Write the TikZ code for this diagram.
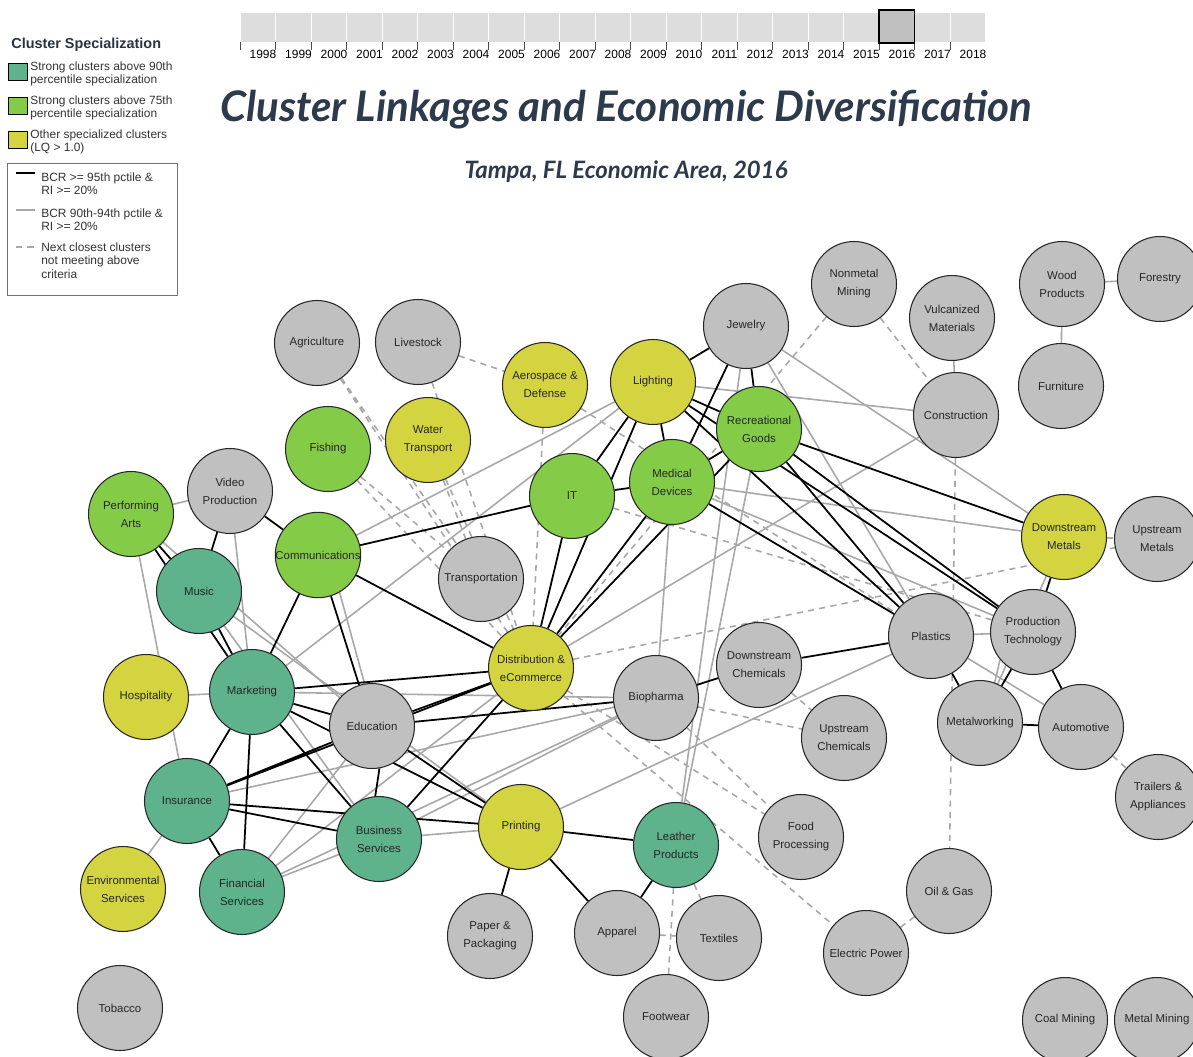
\documentclass[tikz,border=0pt]{standalone}
\usepackage{fontspec}
\usepackage{graphicx}
\setmainfont{Liberation Sans}
\newfontfamily\titlefont{Lato}
\usetikzlibrary{backgrounds}

\definecolor{strongteal}{RGB}{94,178,140}
\definecolor{stronggreen}{RGB}{132,204,72}
\definecolor{otheryellow}{RGB}{212,212,64}
\definecolor{plaingray}{RGB}{192,192,192}
\definecolor{linkgray}{RGB}{168,168,168}
\definecolor{titleblue}{RGB}{44,58,76}
\definecolor{yearcell}{RGB}{221,221,221}

\tikzset{
  cluster/.style={circle, draw=black!85, line width=0.6pt, minimum size=1.7cm,
    inner sep=0pt, align=center, text=black!85,
    font=\fontsize{6.5}{10.2}\selectfont},
  above90/.style={cluster, fill=strongteal},
  above75/.style={cluster, fill=stronggreen},
  lqone/.style={cluster, fill=otheryellow},
  nospec/.style={cluster, fill=plaingray},
  bcrtop/.style={black, line width=1pt},
  bcrnext/.style={linkgray, line width=0.9pt},
  closest/.style={linkgray, line width=0.9pt, dash pattern=on 3.5pt off 3pt},
  legtext/.style={anchor=north west, align=left, inner sep=0pt, text=black!80,
    font=\fontsize{6.8}{7.9}\selectfont},
}

\begin{document}
\begin{tikzpicture}[x=0.02cm, y=-0.02cm]
    \useasboundingbox (0,0) rectangle (1193,1057);

    % year slider
    \foreach \yr [count=\i from 0] in {1998,...,2018} {
        \fill[yearcell, draw=white, line width=0.5pt] (240+35.5*\i, 12) rectangle +(35.5, 30);
        \draw[black!70, line width=0.4pt] (240+35.5*\i, 42) -- +(0, 8);
        \node[font=\fontsize{6.8}{8}\selectfont] at (240+35.5*\i+23, 54) {\yr};
    }
    \draw[black!70, line width=0.4pt] (240, 42) -- (240, 50);
    \draw[fill=plaingray, line width=0.8pt] (879, 10) rectangle (914.5, 43);

    % titles
    \node[text=titleblue] (title) at (626, 110)
        {\resizebox{16.24cm}{!}{\titlefont\bfseries\itshape Cluster Linkages and Economic Diversification}};
    \node[text=titleblue] (subtitle) at (626, 172)
        {\resizebox{6.46cm}{!}{\titlefont\bfseries\itshape Tampa, FL Economic Area, 2016}};

    % legend
    \node[anchor=west, inner sep=0pt, text=titleblue!90!black, font=\fontsize{8.2}{9}\bfseries\selectfont] at (11, 45) {Cluster Specialization};
    \draw[fill=strongteal, line width=0.5pt] (8, 63) rectangle (27, 80);
    \draw[fill=stronggreen, line width=0.5pt] (8, 97) rectangle (27, 114);
    \draw[fill=otheryellow, line width=0.5pt] (8, 131) rectangle (27, 148);
    \node[legtext] at (30, 61) {Strong clusters above 90th\\percentile specialization};
    \node[legtext] at (30, 95) {Strong clusters above 75th\\percentile specialization};
    \node[legtext] at (30, 129) {Other specialized clusters\\(LQ > 1.0)};
    \draw[black!55, line width=0.5pt] (7, 163) rectangle (177, 295);
    \draw[bcrtop] (16, 173) -- (35, 173);
    \draw[bcrnext] (16, 210) -- (35, 210);
    \draw[closest] (16, 247) -- (35, 247);
    \node[legtext] at (41, 172) {BCR >= 95th pctile \&\\RI >= 20\%};
    \node[legtext] at (41, 208) {BCR 90th-94th pctile \&\\RI >= 20\%};
    \node[legtext] at (41, 242) {Next closest clusters\\not meeting above\\criteria};

    % clusters
    \node[nospec] (agri) at (317, 343) {Agriculture};
    \node[nospec] (livestock) at (418, 342) {Livestock};
    \node[nospec] (nonmetal) at (854, 284) {Nonmetal\\Mining};
    \node[nospec] (vulcan) at (952, 318) {Vulcanized\\Materials};
    \node[nospec] (wood) at (1062, 284) {Wood\\Products};
    \node[nospec] (forestry) at (1160, 279) {Forestry};
    \node[nospec] (jewelry) at (746, 326) {Jewelry};
    \node[lqone] (aero) at (545, 385) {Aerospace \&\\Defense};
    \node[lqone] (lighting) at (653, 382) {Lighting};
    \node[nospec] (construction) at (956, 415) {Construction};
    \node[nospec] (furniture) at (1061, 386) {Furniture};
    \node[above75] (recgoods) at (759, 429) {Recreational\\Goods};
    \node[above75] (fishing) at (328, 449) {Fishing};
    \node[lqone] (watertr) at (428, 440) {Water\\Transport};
    \node[nospec] (video) at (230, 491) {Video\\Production};
    \node[above75] (it) at (572, 496) {IT};
    \node[above75] (meddev) at (672, 482) {Medical\\Devices};
    \node[above75] (perfarts) at (131, 514) {Performing\\Arts};
    \node[above75] (comm) at (318, 555) {Communications};
    \node[lqone] (dnmetals) at (1064, 537) {Downstream\\Metals};
    \node[nospec] (upmetals) at (1157, 539) {Upstream\\Metals};
    \node[nospec] (transp) at (481, 579) {Transportation};
    \node[above90] (music) at (199, 591) {Music};
    \node[nospec] (plastics) at (931, 636) {Plastics};
    \node[nospec] (prodtech) at (1033, 632) {Production\\Technology};
    \node[lqone] (distrib) at (531, 668) {Distribution \&\\eCommerce};
    \node[nospec] (dnchem) at (759, 665) {Downstream\\Chemicals};
    \node[nospec] (biopharma) at (656, 698) {Biopharma};
    \node[lqone] (hospitality) at (146, 697) {Hospitality};
    \node[above90] (marketing) at (252, 692) {Marketing};
    \node[nospec] (education) at (372, 726) {Education};
    \node[nospec] (metalwork) at (980, 723) {Metalworking};
    \node[nospec] (automotive) at (1081, 727) {Automotive};
    \node[nospec] (upchem) at (844, 738) {Upstream\\Chemicals};
    \node[nospec] (trailers) at (1158, 797) {Trailers \&\\Appliances};
    \node[above90] (insurance) at (187, 801) {Insurance};
    \node[above90] (business) at (379, 839) {Business\\Services};
    \node[lqone] (printing) at (521, 827) {Printing};
    \node[above90] (leather) at (676, 845) {Leather\\Products};
    \node[nospec] (food) at (801, 837) {Food\\Processing};
    \node[lqone] (environ) at (123, 889) {Environmental\\Services};
    \node[above90] (financial) at (242, 892) {Financial\\Services};
    \node[nospec] (oilgas) at (949, 891) {Oil \& Gas};
    \node[nospec] (paper) at (490, 936) {Paper \&\\Packaging};
    \node[nospec] (apparel) at (617, 933) {Apparel};
    \node[nospec] (textiles) at (719, 938) {Textiles};
    \node[nospec] (electric) at (866, 953) {Electric Power};
    \node[nospec] (tobacco) at (120, 1008) {Tobacco};
    \node[nospec] (footwear) at (666, 1017) {Footwear};
    \node[nospec] (coal) at (1065, 1020) {Coal Mining};
    \node[nospec] (metalmining) at (1157, 1020) {Metal Mining};

    \begin{pgfonlayer}{background}
        \fill[white] (0,0) rectangle (1193,1057);

        % next closest clusters
        \draw[closest] (agri) -- (distrib) (agri) -- (transp);
        \draw[closest] (livestock) -- (aero) (livestock) -- (distrib);
        \draw[closest] (fishing) -- (transp) (fishing) -- (distrib);
        \draw[closest] (watertr) -- (transp) (watertr) -- (distrib);
        \draw[closest] (aero) -- (distrib) (aero) -- (plastics);
        \draw[closest] (nonmetal) -- (distrib) (nonmetal) -- (construction);
        \draw[closest] (construction) -- (oilgas);
        \draw[closest] (dnmetals) -- (upmetals) (distrib) -- (upmetals);
        \draw[closest] (it) -- (prodtech);
        \draw[closest] (biopharma) -- (upchem) (dnchem) -- (upchem);
        \draw[closest] (distrib) -- (food) (biopharma) -- (food);
        \draw[closest] (distrib) -- (electric) (electric) -- (oilgas);
        \draw[closest] (leather) -- (footwear) (leather) -- (textiles);
        \draw[closest] (apparel) -- (textiles) (automotive) -- (trailers);

        % BCR 90th-94th pctile
        \draw[bcrnext] (perfarts) -- (video) (perfarts) -- (insurance);
        \draw[bcrnext] (perfarts) -- (education) (video) -- (marketing);
        \draw[bcrnext] (hospitality) -- (marketing) (insurance) -- (environ);
        \draw[bcrnext] (comm.-60) -- (education.100);
        \draw[bcrnext] (comm) -- (lighting) (marketing) -- (lighting);
        \draw[bcrnext] (marketing) -- (biopharma) (music) -- (business);
        \draw[bcrnext] (music) -- (printing) (insurance) -- (biopharma);
        \draw[bcrnext] (financial) -- (education) (financial) -- (business);
        \draw[bcrnext] (financial) -- (distrib) (financial) -- (biopharma);
        \draw[bcrnext] (business) -- (biopharma) (business) -- (printing);
        \draw[bcrnext] (meddev) -- (biopharma);
        \draw[bcrnext] (jewelry) -- (leather) (recgoods) -- (leather);
        \draw[bcrnext] (lighting) -- (construction) (construction) -- (distrib);
        \draw[bcrnext] (jewelry) -- (dnmetals) (jewelry) -- (plastics);
        \draw[bcrnext] (meddev) -- (dnmetals) (meddev) -- (prodtech);
        \draw[bcrnext] (printing) -- (plastics) (plastics) -- (automotive);
        \draw[bcrnext] (plastics) -- (prodtech) (dnmetals) -- (metalwork);
        \draw[bcrnext] (metalwork.70) -- (prodtech.-140);
        \draw[bcrnext] (vulcan) -- (construction) (wood) -- (furniture);
        \draw[bcrnext] (wood) -- (forestry);

        % BCR >= 95th pctile
        \draw[bcrtop] (video) -- (comm) (video) -- (music);
        \draw[bcrtop] (perfarts) -- (music) (perfarts) -- (marketing);
        \draw[bcrtop] (music) -- (marketing) (comm) -- (marketing);
        \draw[bcrtop] (comm) -- (education) (comm) -- (it) (comm) -- (distrib);
        \draw[bcrtop] (marketing) -- (education) (marketing) -- (distrib);
        \draw[bcrtop] (marketing) -- (insurance) (marketing) -- (financial);
        \draw[bcrtop] (marketing) -- (business) (marketing) -- (printing);
        \draw[bcrtop] (education) -- (distrib) (education) -- (biopharma);
        \draw[bcrtop] (education.-80) -- (business.95) (education) -- (printing);
        \draw[bcrtop] (insurance) -- (education) (insurance) -- (distrib);
        \draw[bcrtop] (insurance) -- (business) (insurance) -- (printing);
        \draw[bcrtop] (insurance) -- (financial) (business) -- (distrib);
        \draw[bcrtop] (printing) -- (leather) (printing) -- (paper);
        \draw[bcrtop] (printing) -- (apparel) (leather) -- (apparel);
        \draw[bcrtop] (distrib) -- (it) (distrib) -- (lighting);
        \draw[bcrtop] (distrib) -- (meddev) (distrib) -- (recgoods);
        \draw[bcrtop] (it) -- (meddev) (it) -- (lighting);
        \draw[bcrtop] (lighting) -- (meddev) (lighting) -- (jewelry);
        \draw[bcrtop] (lighting) -- (recgoods) (lighting) -- (plastics);
        \draw[bcrtop] (lighting) -- (prodtech) (jewelry) -- (recgoods);
        \draw[bcrtop] (jewelry) -- (meddev) (meddev) -- (recgoods);
        \draw[bcrtop] (recgoods) -- (dnmetals) (recgoods) -- (plastics);
        \draw[bcrtop] (recgoods) -- (prodtech) (meddev) -- (plastics);
        \draw[bcrtop] (plastics) -- (dnchem) (plastics) -- (metalwork);
        \draw[bcrtop] (prodtech) -- (metalwork) (prodtech) -- (automotive);
        \draw[bcrtop] (prodtech) -- (dnmetals) (metalwork) -- (automotive);
        \draw[bcrtop] (biopharma) -- (dnchem);
    \end{pgfonlayer}
\end{tikzpicture}
\end{document}
